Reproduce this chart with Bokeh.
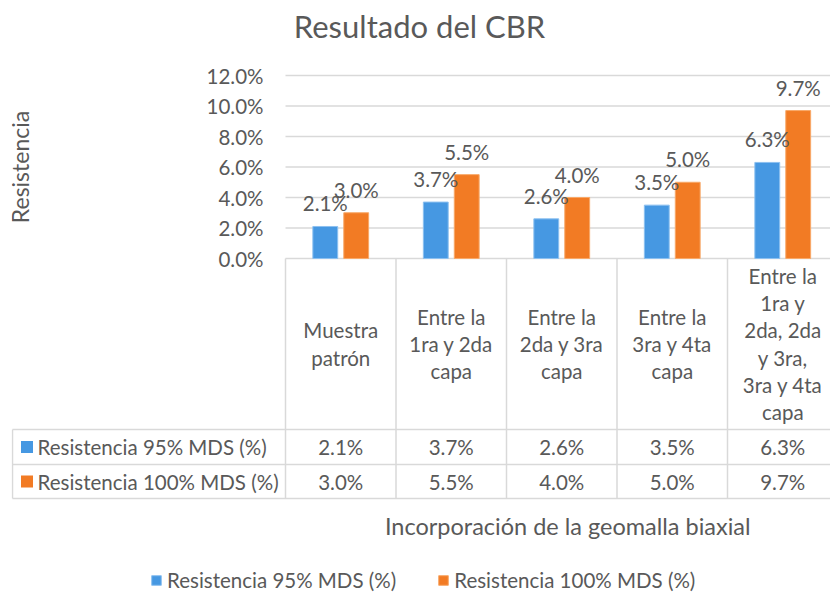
import numpy as np
from bokeh.plotting import figure
from bokeh.models import (Range1d, FixedTicker, NumeralTickFormatter, Legend,
                          LegendItem, Label)
from bokeh.core.properties import value
from bokeh.embed import file_html
from bokeh.resources import INLINE

# ---------------- data ----------------
categories = ["Muestra\npatrón",
              "Entre la\n1ra y 2da\ncapa",
              "Entre la\n2da y 3ra\ncapa",
              "Entre la\n3ra y 4ta\ncapa",
              "Entre la\n1ra y\n2da, 2da\ny 3ra,\n3ra y 4ta\ncapa"]
series_names = ["Resistencia 95% MDS (%)", "Resistencia 100% MDS (%)"]
res_95 = [0.021, 0.037, 0.026, 0.035, 0.063]
res_100 = [0.030, 0.055, 0.040, 0.050, 0.097]
y_ticks = [0.0, 0.02, 0.04, 0.06, 0.08, 0.10, 0.12]
title_text = "Resultado del CBR"
y_title = "Resistencia"
x_title = "Incorporación de la geomalla biaxial"

# ---------------- style ----------------
FONT = "Lato"
TXT = "#595959"
GRID = "#D9D9D9"
BLUE = "#4698E2"
ORANGE = "#F27B24"
FS = "20.5px"

# layout (pixels)
FIG_W, FIG_H = 830, 597
COL_W = 110.5
PX_PER_UNIT = 1525.0
FRAME_L, AXIS_X, FRAME_R = 11, 285, 830
FRAME_T, ZERO_Y, FRAME_B = 0, 258, 597
HDR_B, ROW1_B, TBL_B = 429, 464, 498

x_start = -0.5 - (AXIS_X - FRAME_L) / COL_W
x_end = -0.5 + (FRAME_R - AXIS_X) / COL_W
y_end = (ZERO_Y - FRAME_T) / PX_PER_UNIT
y_start = -(FRAME_B - ZERO_Y) / PX_PER_UNIT


def px_x(px):
    """data x of a horizontal pixel position"""
    return -0.5 + (px - AXIS_X) / COL_W


p = figure(width=FIG_W, height=FIG_H, output_backend="svg", toolbar_location=None,
           x_range=Range1d(x_start, x_end), y_range=Range1d(y_start, y_end),
           x_axis_location=None,
           min_border_left=FRAME_L, min_border_right=FIG_W - FRAME_R,
           min_border_top=FRAME_T, min_border_bottom=FIG_H - FRAME_B)
p.extra_y_ranges = {"tbl": Range1d(start=FRAME_B, end=FRAME_T)}
p.outline_line_color = None
p.xgrid.visible = False
p.ygrid.visible = False

# y axis at the left edge of the bar area
ax = p.yaxis[0]
ax.fixed_location = -0.5
ax.ticker = FixedTicker(ticks=y_ticks)
ax.formatter = NumeralTickFormatter(format="0.0%")
ax.axis_line_color = None
ax.major_tick_line_color = None
ax.major_tick_out = 0
ax.major_tick_in = 0
ax.minor_tick_line_color = None
ax.major_label_standoff = 22
ax.major_label_text_font = FONT
ax.major_label_text_font_size = "20.5px"
ax.major_label_text_color = TXT

# horizontal grid lines (only over bar area)
p.segment(x0=[-0.5] * len(y_ticks), x1=[x_end] * len(y_ticks), y0=y_ticks, y1=y_ticks,
          line_color=GRID, line_width=1.4)

# bars
idx = np.arange(len(categories))
OFF, BW = 0.14, 0.225
r95 = p.vbar(x=idx - OFF, top=res_95, width=BW, fill_color=BLUE, line_color="#8CC0F0", line_width=1)
r100 = p.vbar(x=idx + OFF, top=res_100, width=BW, fill_color=ORANGE, line_color="#F8A868", line_width=1)

# data labels
lab95 = [f"{v:.1%}" for v in res_95]
lab100 = [f"{v:.1%}" for v in res_100]
for xs, vals, labs in ((idx - OFF, res_95, lab95), (idx + OFF, res_100, lab100)):
    p.text(x=xs, y=vals, text=labs, text_align="center", text_baseline="middle",
           y_offset=-23, text_font=value(FONT), text_font_size=FS, text_color=TXT)

# ---------------- data table ----------------
left_col = px_x(12)
bounds_x = list(np.arange(len(categories) + 1) - 0.5)
p.segment(x0=bounds_x, x1=bounds_x, y0=[ZERO_Y] * len(bounds_x), y1=[TBL_B] * len(bounds_x),
          y_range_name="tbl", line_color=GRID, line_width=1.5)
p.segment(x0=[left_col], x1=[left_col], y0=[HDR_B], y1=[TBL_B],
          y_range_name="tbl", line_color=GRID, line_width=1.5)
p.segment(x0=[left_col] * 3, x1=[x_end] * 3, y0=[HDR_B, ROW1_B, TBL_B], y1=[HDR_B, ROW1_B, TBL_B],
          y_range_name="tbl", line_color=GRID, line_width=1.5)

p.text(x=idx, y=[(ZERO_Y + HDR_B) / 2] * len(idx), text=categories, y_range_name="tbl",
       text_align="center", text_baseline="middle", text_line_height=1.13,
       text_font=value(FONT), text_font_size=FS, text_color=TXT)

row_y = [(HDR_B + ROW1_B) / 2, (ROW1_B + TBL_B) / 2]
for ry, labs in zip(row_y, (lab95, lab100)):
    p.text(x=idx, y=[ry] * len(idx), text=labs, y_range_name="tbl",
           text_align="center", text_baseline="middle",
           text_font=value(FONT), text_font_size=FS, text_color=TXT)

p.scatter(x=[px_x(26.5)] * 2, y=row_y, marker="square", size=12, y_range_name="tbl",
          fill_color=[BLUE, ORANGE], line_color=None)
p.text(x=[px_x(37)] * 2, y=row_y, text=series_names, y_range_name="tbl",
       text_align="left", text_baseline="middle",
       text_font=value(FONT), text_font_size=FS, text_color=TXT)

# chart title and axis titles
p.add_layout(Label(x=px_x(419), y=25, y_range_name="tbl", text=title_text,
                   text_align="center", text_baseline="middle",
                   text_font=FONT, text_font_size="31px", text_color=TXT))
p.add_layout(Label(x=px_x(19.5), y=(min(y_ticks) + max(y_ticks)) / 2,
                   text=y_title, angle=np.pi / 2, text_align="center", text_baseline="middle",
                   text_font=FONT, text_font_size="23px", text_color=TXT))
p.add_layout(Label(x=float(np.mean(idx)), y=525, y_range_name="tbl", x_offset=6,
                   text=x_title, text_align="center", text_baseline="middle",
                   text_font=FONT, text_font_size="23.5px", text_color=TXT))

# legend
legend = Legend(items=[LegendItem(label=series_names[0], renderers=[r95]),
                       LegendItem(label=series_names[1], renderers=[r100])],
                orientation="horizontal", location=(150 - FRAME_L, 5),
                glyph_width=12, glyph_height=12, label_standoff=5, spacing=41,
                label_text_font=FONT, label_text_font_size=FS, label_text_color=TXT,
                border_line_color=None, background_fill_alpha=0, padding=0, margin=0)
p.add_layout(legend)

open("out.html", "w").write(file_html(p, INLINE))
